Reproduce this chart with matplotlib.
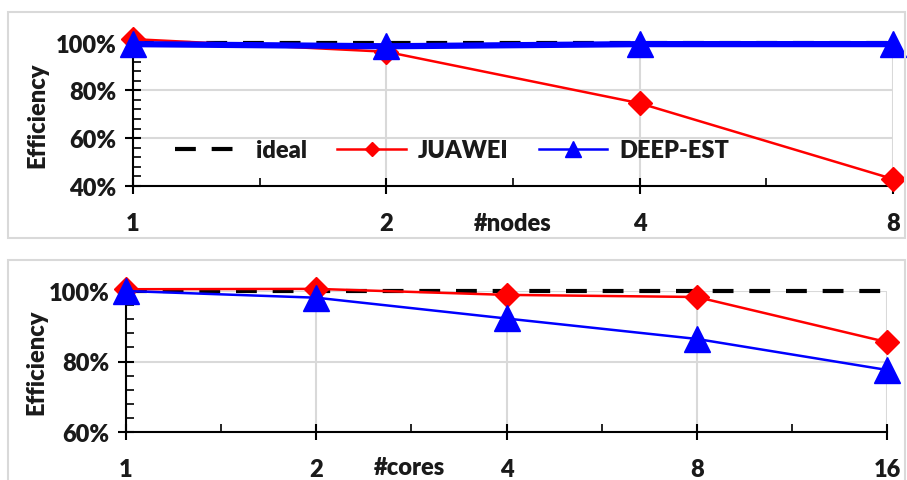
import matplotlib.pyplot as plt
from matplotlib.patches import Rectangle
from matplotlib.ticker import FixedLocator, FuncFormatter, NullFormatter

# top panel: scaling over nodes
nodes = [1, 2, 4, 8]
nodes_ideal = [1.0, 1.0, 1.0, 1.0]
nodes_juawei = [1.015, 0.962, 0.746, 0.428]
nodes_deepest = [0.994, 0.985, 0.994, 0.994]

# bottom panel: scaling over cores
cores = [1, 2, 4, 8, 16]
cores_ideal = [1.0, 1.0, 1.0, 1.0, 1.0]
cores_juawei = [1.005, 1.006, 0.989, 0.983, 0.855]
cores_deepest = [1.0, 0.981, 0.922, 0.864, 0.776]

plt.rcParams["font.family"] = ["Lato", "DejaVu Sans"]
plt.rcParams["font.weight"] = "bold"

W, H = 907, 481
fig = plt.figure(figsize=(W / 100, H / 100), dpi=100)

# light grey chart-area frames (Excel style)
for (x0, y0, x1, y1) in [(8, 13, 905, 239), (8, 261, 905, 500)]:
    fig.patches.append(Rectangle((x0 / W, 1 - y1 / H), (x1 - x0) / W, (y1 - y0) / H,
                                 transform=fig.transFigure, fill=False,
                                 edgecolor="#d9d9d9", linewidth=1.5, clip_on=False))

ax1 = fig.add_axes([133 / W, 1 - 186.7 / H, 760 / W, 143 / H])
ax2 = fig.add_axes([126 / W, 1 - 433 / H, 761 / W, 141 / H])

FS = 17
TXT = "#1a1a1a"


def style(ax, xs, ymin, xlabel, xlabel_pos, ylabel_x, lw_blue, ideal, juawei, deepest):
    ax.set_xscale("log", base=2)
    ax.plot(xs, ideal, color="black", lw=3, dashes=(5, 3.8), label="ideal",
            zorder=3, clip_on=False)
    ax.plot(xs, juawei, color="red", lw=1.8, marker="D", ms=12.5, label="JUAWEI",
            zorder=4, clip_on=False)
    ax.plot(xs, deepest, color="blue", lw=lw_blue, marker="^", ms=19, label="DEEP-EST",
            zorder=5, clip_on=False)

    ax.set_xlim(xs[0], xs[-1])
    ax.set_ylim(ymin, 1.0)
    ax.xaxis.set_major_locator(FixedLocator(xs))
    ax.xaxis.set_minor_locator(FixedLocator([x * 2 ** 0.5 for x in xs[:-1]]))
    ax.xaxis.set_major_formatter(FuncFormatter(lambda v, p: f"{int(round(v))}"))
    ax.xaxis.set_minor_formatter(NullFormatter())

    yt = [ymin + 0.2 * i for i in range(int(round((1.0 - ymin) / 0.2)) + 1)]
    ax.yaxis.set_major_locator(FixedLocator(yt))
    ax.yaxis.set_minor_locator(FixedLocator([ymin + 0.04 * i for i in range(int(round((1.0 - ymin) / 0.04)) + 1)]))
    ax.yaxis.set_major_formatter(FuncFormatter(lambda v, p: f"{v * 100:.0f}%"))

    ax.grid(True, which="major", color="#d9d9d9", lw=1.5, zorder=0)
    ax.set_axisbelow(True)
    for s in ["top", "right"]:
        ax.spines[s].set_visible(False)
    for s in ["left", "bottom"]:
        ax.spines[s].set_linewidth(1.5)
        ax.spines[s].set_zorder(2)

    ax.tick_params(axis="both", which="major", direction="inout", length=12, width=1.5,
                   labelsize=FS, labelcolor=TXT)
    ax.tick_params(axis="both", which="minor", direction="in", length=6, width=1.2)
    ax.tick_params(axis="x", which="major", pad=13)
    ax.tick_params(axis="y", which="major", pad=6)
    for lab in ax.get_xticklabels() + ax.get_yticklabels():
        lab.set_fontweight("heavy")

    ax.set_xlabel(xlabel, fontsize=FS, fontweight="heavy", color=TXT, va="center")
    ax.xaxis.set_label_coords(xlabel_pos[0], xlabel_pos[1])
    ax.set_ylabel("Efficiency", fontsize=FS, fontweight="heavy", color=TXT)
    ax.yaxis.set_label_coords(ylabel_x, 0.5)


style(ax1, nodes, 0.4, "#nodes", (0.5, -0.26), -0.112, 4.5,
      nodes_ideal, nodes_juawei, nodes_deepest)
style(ax2, cores, 0.6, "#cores", (0.373, -0.245), -0.103, 1.8,
      cores_ideal, cores_juawei, cores_deepest)

leg = ax1.legend(loc="center", bbox_to_anchor=(0.42, 0.25), ncol=3, frameon=False,
                 markerscale=0.57, handlelength=2.9, handletextpad=0.5,
                 columnspacing=1.3, labelcolor=TXT, prop={"weight": "heavy", "size": FS})
leg.get_lines()[2].set_linewidth(1.8)

fig.savefig("out.png", dpi=100)
